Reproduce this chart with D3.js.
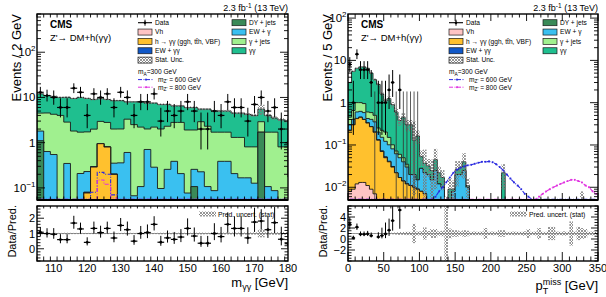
<!DOCTYPE html>
<meta charset="utf-8">
<body style="margin:0;background:#fff">
<script src="https://d3js.org/d3.v7.min.js"></script>
<script>

// ---------- left: m_gg distribution, 2 GeV bins (lower edges) ----------
var mggLow = [105,107,109,111,113,115,117,119,121,123,125,127,129,131,133,135,137,139,141,143,
              145,147,149,151,153,155,157,159,161,163,165,167,169,171,173,175,177,179];
var mggData = [13,11,10,6,6,16,13,4,12,10, 12,6,13,10,4,8,8,12,3,5,
               4,5,8,5,2,2,5,4,8,6, 6,3,7,10,5,6,2,1];
var mggVh   = [0.002,0.002,0.002,0.002,0.002,0.002,0.002,0.002,0.004,0.010, 0.010,0.004,0.002,0.002,0.002,0.002,0.002,0.002,0.002,0.002,
               0.002,0.002,0.002,0.002,0.002,0.002,0.002,0.002,0.002,0.002, 0.002,0.002,0.002,0.002,0.002,0.002,0.002,0.002];
var mggHgg  = [0.002,0.002,0.002,0.002,0.002,0.002,0.003,0.075,0.285,0.94, 0.79,0.195,0.003,0.002,0.002,0.002,0.002,0.002,0.002,0.002,
               0.002,0.002,0.002,0.002,0.002,0.002,0.002,0.002,0.002,0.002, 0.002,0.002,0.002,0.002,0.002,0.002,0.002,0.002];
var mggEWgg = [0.003,0.003,0.003,0.003,0.003,0.003,0.003,0.003,0.003,0.003, 0.003,0.003,0.003,0.003,0.003,0.003,0.003,0.003,0.003,0.003,
               0.003,0.003,0.003,0.003,0.003,0.003,0.003,0.003,0.003,0.003, 0.003,0.003,0.003,0.003,0.003,0.003,0.003,0.003];
var mggDY   = [1.1,0,0,0,0,0,0,0,0,0, 0,0,0,0,0,0,0,0,0,0,
               0,0,0,0.1,0,0,0,0,0,0, 0,0,0,1.7,0,0,0,0];
var mggEWg  = [0.7,0.63,0.54,0,0.34,0,0.2,0.15,0,0, 0,0.15,0.35,0.6,0.06,0.1,0.7,0.28,0.09,0.25,
               0.38,0.2,0.07,0.15,0.22,0.1,0.08,0.38,0.38,0.2, 0.16,0.16,0.12,0,0.1,0.08,0,0];
var mggGJ   = [2.7,3.9,3.7,4.0,2.5,1.8,1.5,1.5,1.7,2.0, 2.0,1.65,1.65,2.7,2.44,2.1,1.3,1.92,1.91,2.05,
               2.42,2.6,1.83,1.65,2.68,2.2,1.62,1.32,1.32,1.1, 1.14,0.64,0.68,1.2,1.6,1.62,0.8,0.8];
var mggGG   = [7.5,6.5,6.3,6.0,7.2,7.7,8.3,7.8,7.0,6.5, 6.2,6.5,6.5,4.7,5.5,5.8,5.5,5.3,5.0,4.7,
               3.7,3.7,4.1,4.1,2.6,3.2,3.3,3.3,3.3,3.2, 3.2,3.4,3.2,2.6,2.3,1.8,2.4,2.2];
var mggUnc  = [0.05,0.04,0.04,0.04,0.05,0.04,0.04,0.04,0.04,0.05, 0.04,0.04,0.04,0.05,0.04,0.04,0.05,0.04,0.05,0.05,
               0.05,0.05,0.05,0.05,0.06,0.05,0.06,0.06,0.06,0.06, 0.06,0.07,0.07,0.25,0.07,0.08,0.08,0.08];
var mggSig600 = [0,0,0,0,0,0,0,0.01,0.08,0.22, 0.2,0.07,0,0,0,0,0,0,0,0,
                 0,0,0,0,0,0,0,0,0,0, 0,0,0,0,0,0,0,0];
var mggSig800 = [0,0,0,0,0,0,0,0,0.03,0.15, 0.12,0.06,0,0,0,0,0,0,0,0,
                 0,0,0,0,0,0,0,0,0,0, 0,0,0,0,0,0,0,0];
var mggXTicks = [110,120,130,140,150,160,170,180];
var mggYTicks = [0.1,1,10,100];
var mggRTicks = [0,1,2];

// ---------- right: pT miss distribution, 5 GeV bins (lower edges) ----------
var ptLow = [0,5,10,15,20,25,30,35,40,45, 50,55,60,65,70,75,80,85,90,95,
             100,105,110,115,120,125,130,135,140,145, 150,155,160,165,170,175,180,185,190,195,
             200,205,210,215,220,225,230,235,240,245, 250,255,260,265,270,275,280,285,290,295,
             300,305,310,315,320,325,330,335,340,345];
var ptData = [8,1,14,6,6,6,3,0,1,1, 1,2,3,0,2,0,0,0,0,0,
              null,null,null,null,null,null,null,null,null,null, null,null,null,null,null,null,null,null,null,null,
              null,null,null,null,null,null,null,null,null,null, null,null,null,null,null,null,null,null,null,null,
              null,null,null,null,null,null,null,null,null,null];
var ptVh  = [0.008,0.009,0.012,0.013,0.013,0.011,0.009,0.007,0.005,0.004, 0.003,0.003,0.002,0.002,0.002,0.002,0.001,0.001,0.001,0.001,
             0,0,0,0,0,0,0,0,0,0, 0,0,0,0,0,0,0,0,0,0, 0,0,0,0,0,0,0,0,0,0, 0,0,0,0,0,0,0,0,0,0, 0,0,0,0,0,0,0,0,0,0];
var ptHgg = [0.212,0.291,0.408,0.437,0.387,0.319,0.261,0.193,0.125,0.066, 0.047,0.037,0.028,0.020,0.015,0.012,0.011,0.010,0.009,0.008,
             0.008,0.007,0,0,0,0,0,0,0,0, 0,0,0,0,0,0,0,0,0,0, 0,0,0,0,0,0,0,0,0,0, 0,0,0,0,0,0,0,0,0,0, 0,0,0,0,0,0,0,0,0,0];
var ptEWgg = [0.003,0.003,0.004,0.004,0.003,0.003,0.003,0.002,0.002,0.002, 0.002,0.001,0.001,0,0,0,0,0,0,0,
             0,0,0,0,0,0,0,0,0,0, 0,0,0,0,0,0,0,0,0,0, 0,0,0,0,0,0,0,0,0,0, 0,0,0,0,0,0,0,0,0,0, 0,0,0,0,0,0,0,0,0,0];
var ptDY  = [0,0,0,0,0,0,0,0,0,0, 0,0,0,0,0,0,0,0,0,0,
             0,0,0,0,0,0,0,0,0,0, 0,0,0,0,0,0,0,0,0,0, 0,0,0,0,0,0,0,0,0,0, 0,0,0,0,0,0,0,0,0,0, 0,0,0,0,0,0,0,0,0,0];
var ptEWg = [0.08,0.10,0.18,0.17,0.18,0.09,0.13,0.15,0.07,0.08, 0.07,0.06,0.05,0.04,0.033,0.026,0.018,0.009,0.010,0.006,
             0.020,0.015,0.020,0.015,0.025,0.012,0.010,0,0,0.008, 0.020,0.020,0.025,0.010,0,0,0,0,0,0,
             0,0,0,0,0,0,0,0,0,0, 0,0,0,0,0,0,0,0,0,0, 0,0,0,0,0,0,0,0,0,0];
var ptGJ  = [0.15,0.25,0.40,0.38,0.37,0.18,0.18,0.15,0.05,0.07, 0.08,0.05,0.02,0.01,0.01,0.01,0.005,0,0,0,
             0,0,0,0,0,0,0,0,0,0, 0,0,0,0,0,0,0,0,0,0, 0,0,0,0,0,0,0,0,0,0, 0,0,0,0,0,0,0,0,0,0, 0,0,0,0,0,0,0,0,0,0];
var ptGG  = [2.55,4.85,5.50,6.00,6.05,5.90,4.42,3.00,2.45,1.38, 0.90,1.10,0.80,0.53,0.32,0.40,0.265,0.28,0.11,0.148,
             0.025,0.015,0.012,0.010,0.020,0.010,0.007,0.001,0.009,0.001, 0.006,0.010,0.015,0.001,0.001,0.001,0.001,0.001,0.001,0.001,
             0.001,0.001,0.001,0.022,0.001,0.001,0.001,0.001,0.001,0.001, 0.001,0.001,0.001,0.001,0.001,0.001,0.001,0.001,0.001,0.001,
             0.001,0.001,0.001,0.001,0.001,0.004,0.001,0.001,0.001,0.001];
var ptUnc = [0.05,0.04,0.04,0.04,0.04,0.04,0.05,0.06,0.07,0.09, 0.12,0.12,0.15,0.2,0.25,0.25,0.3,0.3,1.75,0.35,
             0.4,1.1,0.45,0.8,0.8,0.4,0.5,5.0,0.9,0.6, 0.6,0.4,0.6,0.5,0.3,0.35,0.3,0.35,1.0,0.3,
             0.35,0.3,0.6,0.6,0.3,0.3,0.35,0.3,0.3,0.4, 0.8,0.3,0.35,1.0,0.3,0.3,1.2,1.2,0.35,0.3,
             0.4,0.3,2.2,0.35,1.2,1.0,0.8,0.3,0.35,0.3];
var ptSig600 = [0,0,0,0,0,0,0,0,0,0, 0,0,0,0,0,0,0,0,0,0,
                0,0,0,0,0.006,0.008,0.010,0.013,0.017,0.022, 0.026,0.029,0.031,0.033,0.034,0.036,0.038,0.040,0.040,0.041,
                0.039,0.035,0.030,0.025,0.020,0.016,0.013,0.011,0.009,0.007, 0.006,0.005,0,0,0,0,0,0,0,0,
                0,0,0,0,0,0,0,0,0,0];
var ptSig800 = [0,0,0,0,0,0,0,0,0,0, 0,0,0,0,0,0,0,0,0,0,
                0,0,0,0,0,0,0,0,0,0, 0,0,0,0,0,0,0,0,0,0,
                0,0,0,0,0,0,0,0,0,0, 0,0,0.005,0.006,0.007,0.008,0.009,0.010,0.011,0.012,
                0.013,0.014,0.015,0.015,0.014,0.013,0.011,0.010,0.008,0.007];
var ptXTicks = [0,50,100,150,200,250,300,350];
var ptYTicks = [0.01,0.1,1,10,100];
var ptRTicks = [-2,0,2,4];

// colours
var cGG = "#1fbf8f", cGJ = "#a0f08f", cEWg = "#3ac0f0", cDY = "#3a8a58",
    cEWgg = "#1058c8", cHgg = "#ffc12e", cVh = "#ffc4c4";
var cSig600 = "#2a2ae0", cSig800 = "#e030e0";

var FONT = "'Liberation Sans', Arial, Helvetica, sans-serif";
var svg = d3.select("body").append("svg")
  .attr("width", 606).attr("height", 297)
  .style("font-family", FONT);
var defs = svg.append("defs");
var pat = defs.append("pattern").attr("id", "hatch")
  .attr("width", 3).attr("height", 3).attr("patternUnits", "userSpaceOnUse");
pat.append("path").attr("d", "M0,0L3,3M3,0L0,3M-1,2L1,4M2,-1L4,1")
  .attr("stroke", "#7a7a7a").attr("stroke-width", 0.8).attr("fill", "none");

// Garwood intervals for small counts
var GW = [[0,1.841],[0.173,3.300],[0.708,4.638],[1.367,5.918],[2.086,7.163],[2.840,8.382],
          [3.620,9.584],[4.419,10.77],[5.232,11.95],[6.057,13.11],[6.891,14.27]];
function pois(n) {
  if (n <= 10) return GW[n];
  var s = Math.sqrt(n + 0.25);
  return [n + 0.5 - s, n + 0.5 + s];
}

var TOP = 14, BOT = 200, RTOP = 206, RBOT = 261;

function logLabel(t, v) {
  var e = Math.round(Math.log10(v));
  if (e === 0) t.text("1");
  else if (e === 1) t.text("10");
  else {
    t.append("tspan").text("10");
    t.append("tspan").attr("dy", -5).style("font-size", "8px").text(e < 0 ? "\u2212" + (-e) : e);
  }
}

function panel(p) {
  var g = svg.append("g");
  var x = d3.scaleLinear().domain(p.xDomain).range([p.x0, p.x1]);
  var y = d3.scaleLog().domain(p.yDomain).range([BOT, TOP]);
  var yr = d3.scaleLinear().domain(p.rDomain).range([RBOT, RTOP]);
  var n = p.low.length, w = p.width;

  defs.append("clipPath").attr("id", "c" + p.id).append("rect")
    .attr("x", p.x0).attr("y", TOP).attr("width", p.x1 - p.x0).attr("height", BOT - TOP);
  defs.append("clipPath").attr("id", "r" + p.id).append("rect")
    .attr("x", p.x0).attr("y", RTOP).attr("width", p.x1 - p.x0).attr("height", RBOT - RTOP);
  var main = g.append("g").attr("clip-path", "url(#c" + p.id + ")");
  var rat = g.append("g").attr("clip-path", "url(#r" + p.id + ")");

  // stacked histograms
  var cum = p.low.map(function() { return 0; });
  var layers = p.stack.map(function(s) {
    cum = cum.map(function(c, i) { return c + s.v[i]; });
    return { c: s.c, tops: cum.slice() };
  });
  var total = cum;
  function yv(v) { return v > 0 ? Math.min(y(v), BOT + 6) : BOT + 6; }
  function stepPath(tops) {
    var d = "M" + x(p.low[0]) + "," + (BOT + 6);
    tops.forEach(function(t, i) {
      d += "L" + x(p.low[i]) + "," + yv(t) + "L" + x(p.low[i] + w) + "," + yv(t);
    });
    return d + "L" + x(p.low[n - 1] + w) + "," + (BOT + 6) + "Z";
  }
  layers.slice().reverse().forEach(function(l) {
    main.append("path").attr("d", stepPath(l.tops))
      .attr("fill", l.c).attr("stroke", "#1a1a1a").attr("stroke-width", 0.9);
  });

  // stat. uncertainty boxes
  total.forEach(function(t, i) {
    if (t <= 0) return;
    var u = p.unc[i];
    var lo = t * (1 - Math.min(u, 0.95));
    main.append("rect").attr("x", x(p.low[i])).attr("width", x(p.low[i] + w) - x(p.low[i]))
      .attr("y", y(t * (1 + u))).attr("height", Math.max(0, yv(lo) - y(t * (1 + u))))
      .attr("fill", "url(#hatch)");
  });

  // signals
  p.sig.forEach(function(s) {
    var line = d3.line()
      .x(function(d, i) { return x(p.low[i] + w / 2); })
      .y(function(d) { return d > 0 ? Math.min(y(d), BOT - 0.8) : BOT - 0.8; })
      .curve(p.sigStep ? d3.curveStep : d3.curveLinear);
    main.append("path").attr("d", line(s.v)).attr("fill", "none")
      .attr("stroke", s.c).attr("stroke-width", 1.1).attr("stroke-dasharray", "4,1.5,1,1.5");
    if (!p.sigStep) {
      s.v.forEach(function(d, i) {
        if (d <= 0) return;
        main.append("rect").attr("x", x(p.low[i] + w / 2) - 0.9).attr("width", 1.8).attr("height", 1.8)
          .attr("y", y(d) - 0.9).attr("fill", s.c);
      });
    }
  });

  // data points
  p.data.forEach(function(d, i) {
    if (d === null) return;
    var cx = x(p.low[i] + w / 2), e = pois(d);
    var y1 = e[0] > 0 ? yv(e[0]) : BOT + 6;
    main.append("line").attr("x1", cx).attr("x2", cx).attr("y1", y1).attr("y2", y(e[1]))
      .attr("stroke", d > 0 ? "#000" : "#333").attr("stroke-width", d > 0 ? 1 : 0.8);
    if (d > 0) {
      main.append("line").attr("x1", x(p.low[i])).attr("x2", x(p.low[i] + w))
        .attr("y1", y(d)).attr("y2", y(d)).attr("stroke", "#000").attr("stroke-width", 1.2);
      main.append("circle").attr("cx", cx).attr("cy", y(d)).attr("r", 1.4).attr("fill", "#000");
    }
  });

  // ratio panel
  rat.append("line").attr("x1", p.x0).attr("x2", p.x1).attr("y1", yr(1)).attr("y2", yr(1))
    .attr("stroke", "#888").attr("stroke-width", 0.8);
  p.unc.forEach(function(u, i) {
    rat.append("rect").attr("x", x(p.low[i])).attr("width", x(p.low[i] + w) - x(p.low[i]))
      .attr("y", yr(1 + u)).attr("height", yr(1 - u) - yr(1 + u)).attr("fill", "url(#hatch)");
  });
  p.data.forEach(function(d, i) {
    if (d === null || d === 0 || total[i] <= 0) return;
    var cx = x(p.low[i] + w / 2), e = pois(d), t = total[i];
    rat.append("line").attr("x1", cx).attr("x2", cx).attr("y1", yr(e[0] / t)).attr("y2", yr(e[1] / t))
      .attr("stroke", "#000").attr("stroke-width", 1);
    rat.append("line").attr("x1", x(p.low[i])).attr("x2", x(p.low[i] + w))
      .attr("y1", yr(d / t)).attr("y2", yr(d / t)).attr("stroke", "#000").attr("stroke-width", 1.2);
    rat.append("circle").attr("cx", cx).attr("cy", yr(d / t)).attr("r", 1.4).attr("fill", "#000");
  });

  // frames
  [[TOP, BOT], [RTOP, RBOT]].forEach(function(f) {
    g.append("rect").attr("x", p.x0).attr("y", f[0]).attr("width", p.x1 - p.x0).attr("height", f[1] - f[0])
      .attr("fill", "none").attr("stroke", "#000").attr("stroke-width", 1.4);
  });
  g.append("line").attr("x1", p.x0).attr("x2", p.x1).attr("y1", BOT).attr("y2", BOT)
    .attr("stroke", "#000").attr("stroke-width", 2);

  var tk = g.append("g").attr("stroke", "#000").attr("stroke-width", 0.9);
  function vt(xx, ya, yb) { tk.append("line").attr("x1", xx).attr("x2", xx).attr("y1", ya).attr("y2", yb); }
  function ht(yy, xa, xb) { tk.append("line").attr("x1", xa).attr("x2", xb).attr("y1", yy).attr("y2", yy); }

  // x ticks (both panels, top and bottom)
  var xmin = d3.range(p.xDomain[0], p.xDomain[1] + 0.001, p.xMinor);
  xmin.forEach(function(v) {
    var maj = p.xTicks.indexOf(v) >= 0, xx = x(v);
    var lm = maj ? 7 : 3.5, lr = maj ? 9 : 4.5;
    vt(xx, BOT, BOT - lm); vt(xx, TOP, TOP + lm);
    vt(xx, RBOT, RBOT - lr); vt(xx, RTOP, RTOP + lm * 0.7);
  });
  // log y ticks
  var e0 = Math.floor(Math.log10(p.yDomain[0])), e1 = Math.ceil(Math.log10(p.yDomain[1]));
  for (var e = e0; e <= e1; e++) {
    for (var k = 1; k <= 9; k++) {
      var v = k * Math.pow(10, e);
      if (v < p.yDomain[0] || v > p.yDomain[1]) continue;
      var L = k === 1 ? 8 : 4;
      ht(y(v), p.x0, p.x0 + L); ht(y(v), p.x1, p.x1 - L);
    }
  }
  // ratio y ticks
  d3.range(p.rDomain[0], p.rDomain[1] + 0.001, p.rMinor).forEach(function(v) {
    var maj = p.rTicks.some(function(m) { return Math.abs(m - v) < 1e-6; });
    var L = maj ? 7 : 3.5;
    ht(yr(v), p.x0, p.x0 + L); ht(yr(v), p.x1, p.x1 - L);
  });

  // tick labels
  p.xTicks.forEach(function(v) {
    g.append("text").attr("x", x(v)).attr("y", 272).attr("text-anchor", "middle")
      .style("font-size", "11px").text(v);
  });
  p.yTicks.forEach(function(v) {
    var t = g.append("text").attr("x", p.x0 - 1.5).attr("y", y(v) + 4).attr("text-anchor", "end")
      .style("font-size", "11.5px");
    logLabel(t, v);
  });
  p.rTicks.forEach(function(v) {
    g.append("text").attr("x", p.x0 - 2).attr("y", yr(v) + 4).attr("text-anchor", "end")
      .style("font-size", "11px").text(v < 0 ? "\u2212" + (-v) : v);
  });

  // axis titles
  g.append("text").attr("transform", "translate(" + (p.x0 - 16) + "," + TOP + ") rotate(-90)")
    .attr("text-anchor", "end").style("font-size", "13px").text(p.yTitle);
  g.append("text").attr("transform", "translate(" + (p.x0 - 21) + "," + (RTOP - 1) + ") rotate(-90)")
    .attr("text-anchor", "end").style("font-size", "11px").text("Data/Pred.");
  p.xTitle(g);

  // lumi text
  var lt = g.append("text").attr("x", p.x1).attr("y", 10.5).attr("text-anchor", "end").style("font-size", "9px");
  lt.append("tspan").text("2.3 fb");
  lt.append("tspan").attr("dy", -3).style("font-size", "6.5px").text("-1");
  lt.append("tspan").attr("dy", 3).text(" (13 TeV)");

  // CMS labels
  g.append("text").attr("x", p.x0 + 13).attr("y", 28).style("font-size", "10px").style("font-weight", "bold").text("CMS");
  g.append("text").attr("x", p.x0 + 13).attr("y", 40.5).style("font-size", "9.5px").text("Z'\u2192 DM+h(\u03b3\u03b3)");

  // legend
  var fs = "6.6px", lx = p.x0 + 101, tx = p.x0 + 118;
  function row(i) { return 22.7 + 9.35 * i; }
  function boxItem(bx, i, fill, label) {
    g.append("rect").attr("x", bx).attr("y", row(i) - 3).attr("width", 14).attr("height", 6)
      .attr("fill", fill).attr("stroke", "#1a1a1a").attr("stroke-width", 0.7);
    g.append("text").attr("x", bx + 17).attr("y", row(i) + 2.3).style("font-size", fs).text(label);
  }
  g.append("line").attr("x1", lx).attr("x2", lx + 14).attr("y1", row(0)).attr("y2", row(0)).attr("stroke", "#000").attr("stroke-width", 1.1);
  g.append("line").attr("x1", lx + 7).attr("x2", lx + 7).attr("y1", row(0) - 3).attr("y2", row(0) + 3).attr("stroke", "#000").attr("stroke-width", 1);
  g.append("circle").attr("cx", lx + 7).attr("cy", row(0)).attr("r", 1.3).attr("fill", "#000");
  g.append("text").attr("x", tx).attr("y", row(0) + 2.3).style("font-size", fs).text("Data");
  boxItem(lx, 1, cVh, "Vh");
  boxItem(lx, 2, cHgg, "h \u2192 \u03b3\u03b3 (ggh, tt\u0304h, VBF)");
  boxItem(lx, 3, cEWgg, "EW + \u03b3\u03b3");
  boxItem(lx, 4, "url(#hatch)", "Stat. Unc.");
  var bx2 = p.x0 + 195;
  boxItem(bx2, 0, cDY, "DY + jets");
  boxItem(bx2, 1, cEWg, "EW + \u03b3");
  boxItem(bx2, 2, cGJ, "\u03b3 + jets");
  boxItem(bx2, 3, cGG, "\u03b3\u03b3");

  var ma = g.append("text").attr("x", lx).attr("y", 74).style("font-size", fs);
  ma.append("tspan").text("m");
  ma.append("tspan").attr("dy", 1.5).style("font-size", "4.8px").text("A");
  ma.append("tspan").attr("dy", -1.5).text("=300 GeV");
  [[cSig600, "600", 79.6], [cSig800, "800", 87.2]].forEach(function(s) {
    g.append("line").attr("x1", lx).attr("x2", lx + 16).attr("y1", s[2]).attr("y2", s[2])
      .attr("stroke", s[0]).attr("stroke-width", 1).attr("stroke-dasharray", "4,1.5,1,1.5");
    g.append("rect").attr("x", lx + 7.1).attr("y", s[2] - 0.9).attr("width", 1.8).attr("height", 1.8).attr("fill", s[0]);
    var t = g.append("text").attr("x", lx + 20).attr("y", s[2] + 2.3).style("font-size", fs);
    t.append("tspan").text("m");
    t.append("tspan").attr("dy", 1.5).style("font-size", "4.8px").text("Z'");
    t.append("tspan").attr("dy", -1.5).text(" = " + s[1] + " GeV");
  });

  // ratio legend
  g.append("rect").attr("x", p.x0 + 162).attr("y", 211.5).attr("width", 17).attr("height", 5)
    .attr("fill", "url(#hatch)");
  g.append("text").attr("x", p.x0 + 181).attr("y", 216.5).style("font-size", "6.8px").text("Pred. uncert. (stat)");
}

panel({
  id: "L", x0: 37, x1: 288, xDomain: [105, 180], yDomain: [0.054, 700], rDomain: [-0.8, 2.8],
  low: mggLow, width: 2,
  stack: [{v: mggVh, c: cVh}, {v: mggHgg, c: cHgg}, {v: mggEWgg, c: cEWgg}, {v: mggDY, c: cDY},
          {v: mggEWg, c: cEWg}, {v: mggGJ, c: cGJ}, {v: mggGG, c: cGG}],
  data: mggData, unc: mggUnc,
  sig: [{v: mggSig600, c: cSig600}, {v: mggSig800, c: cSig800}], sigStep: true,
  xTicks: mggXTicks, xMinor: 2, yTicks: mggYTicks, rTicks: mggRTicks, rMinor: 0.2,
  yTitle: "Events / 2 GeV",
  xTitle: function(g) {
    var t = g.append("text").attr("x", 288).attr("y", 287).attr("text-anchor", "end").style("font-size", "13px");
    t.append("tspan").text("m");
    t.append("tspan").attr("dy", 3).style("font-size", "9px").text("\u03b3\u03b3");
    t.append("tspan").attr("dy", -3).text(" [GeV]");
  }
});

panel({
  id: "R", x0: 348, x1: 598, xDomain: [0, 350], yDomain: [0.005, 125], rDomain: [-4, 6],
  low: ptLow, width: 5,
  stack: [{v: ptVh, c: cVh}, {v: ptHgg, c: cHgg}, {v: ptEWgg, c: cEWgg}, {v: ptDY, c: cDY},
          {v: ptEWg, c: cEWg}, {v: ptGJ, c: cGJ}, {v: ptGG, c: cGG}],
  data: ptData, unc: ptUnc,
  sig: [{v: ptSig600, c: cSig600}, {v: ptSig800, c: cSig800}], sigStep: false,
  xTicks: ptXTicks, xMinor: 10, yTicks: ptYTicks, rTicks: ptRTicks, rMinor: 0.5,
  yTitle: "Events / 5 GeV",
  xTitle: function(g) {
    var t = g.append("text").attr("x", 598).attr("y", 290).attr("text-anchor", "end").style("font-size", "13px");
    t.append("tspan").text("p");
    t.append("tspan").attr("dy", -5).style("font-size", "9px").text("miss");
    t.append("tspan").attr("dy", 5).text(" [GeV]");
    var sx = t.node().getStartPositionOfChar(1).x;
    g.append("text").attr("x", sx).attr("y", 294).style("font-size", "9px").text("T");
  }
});
</script>
</body>
